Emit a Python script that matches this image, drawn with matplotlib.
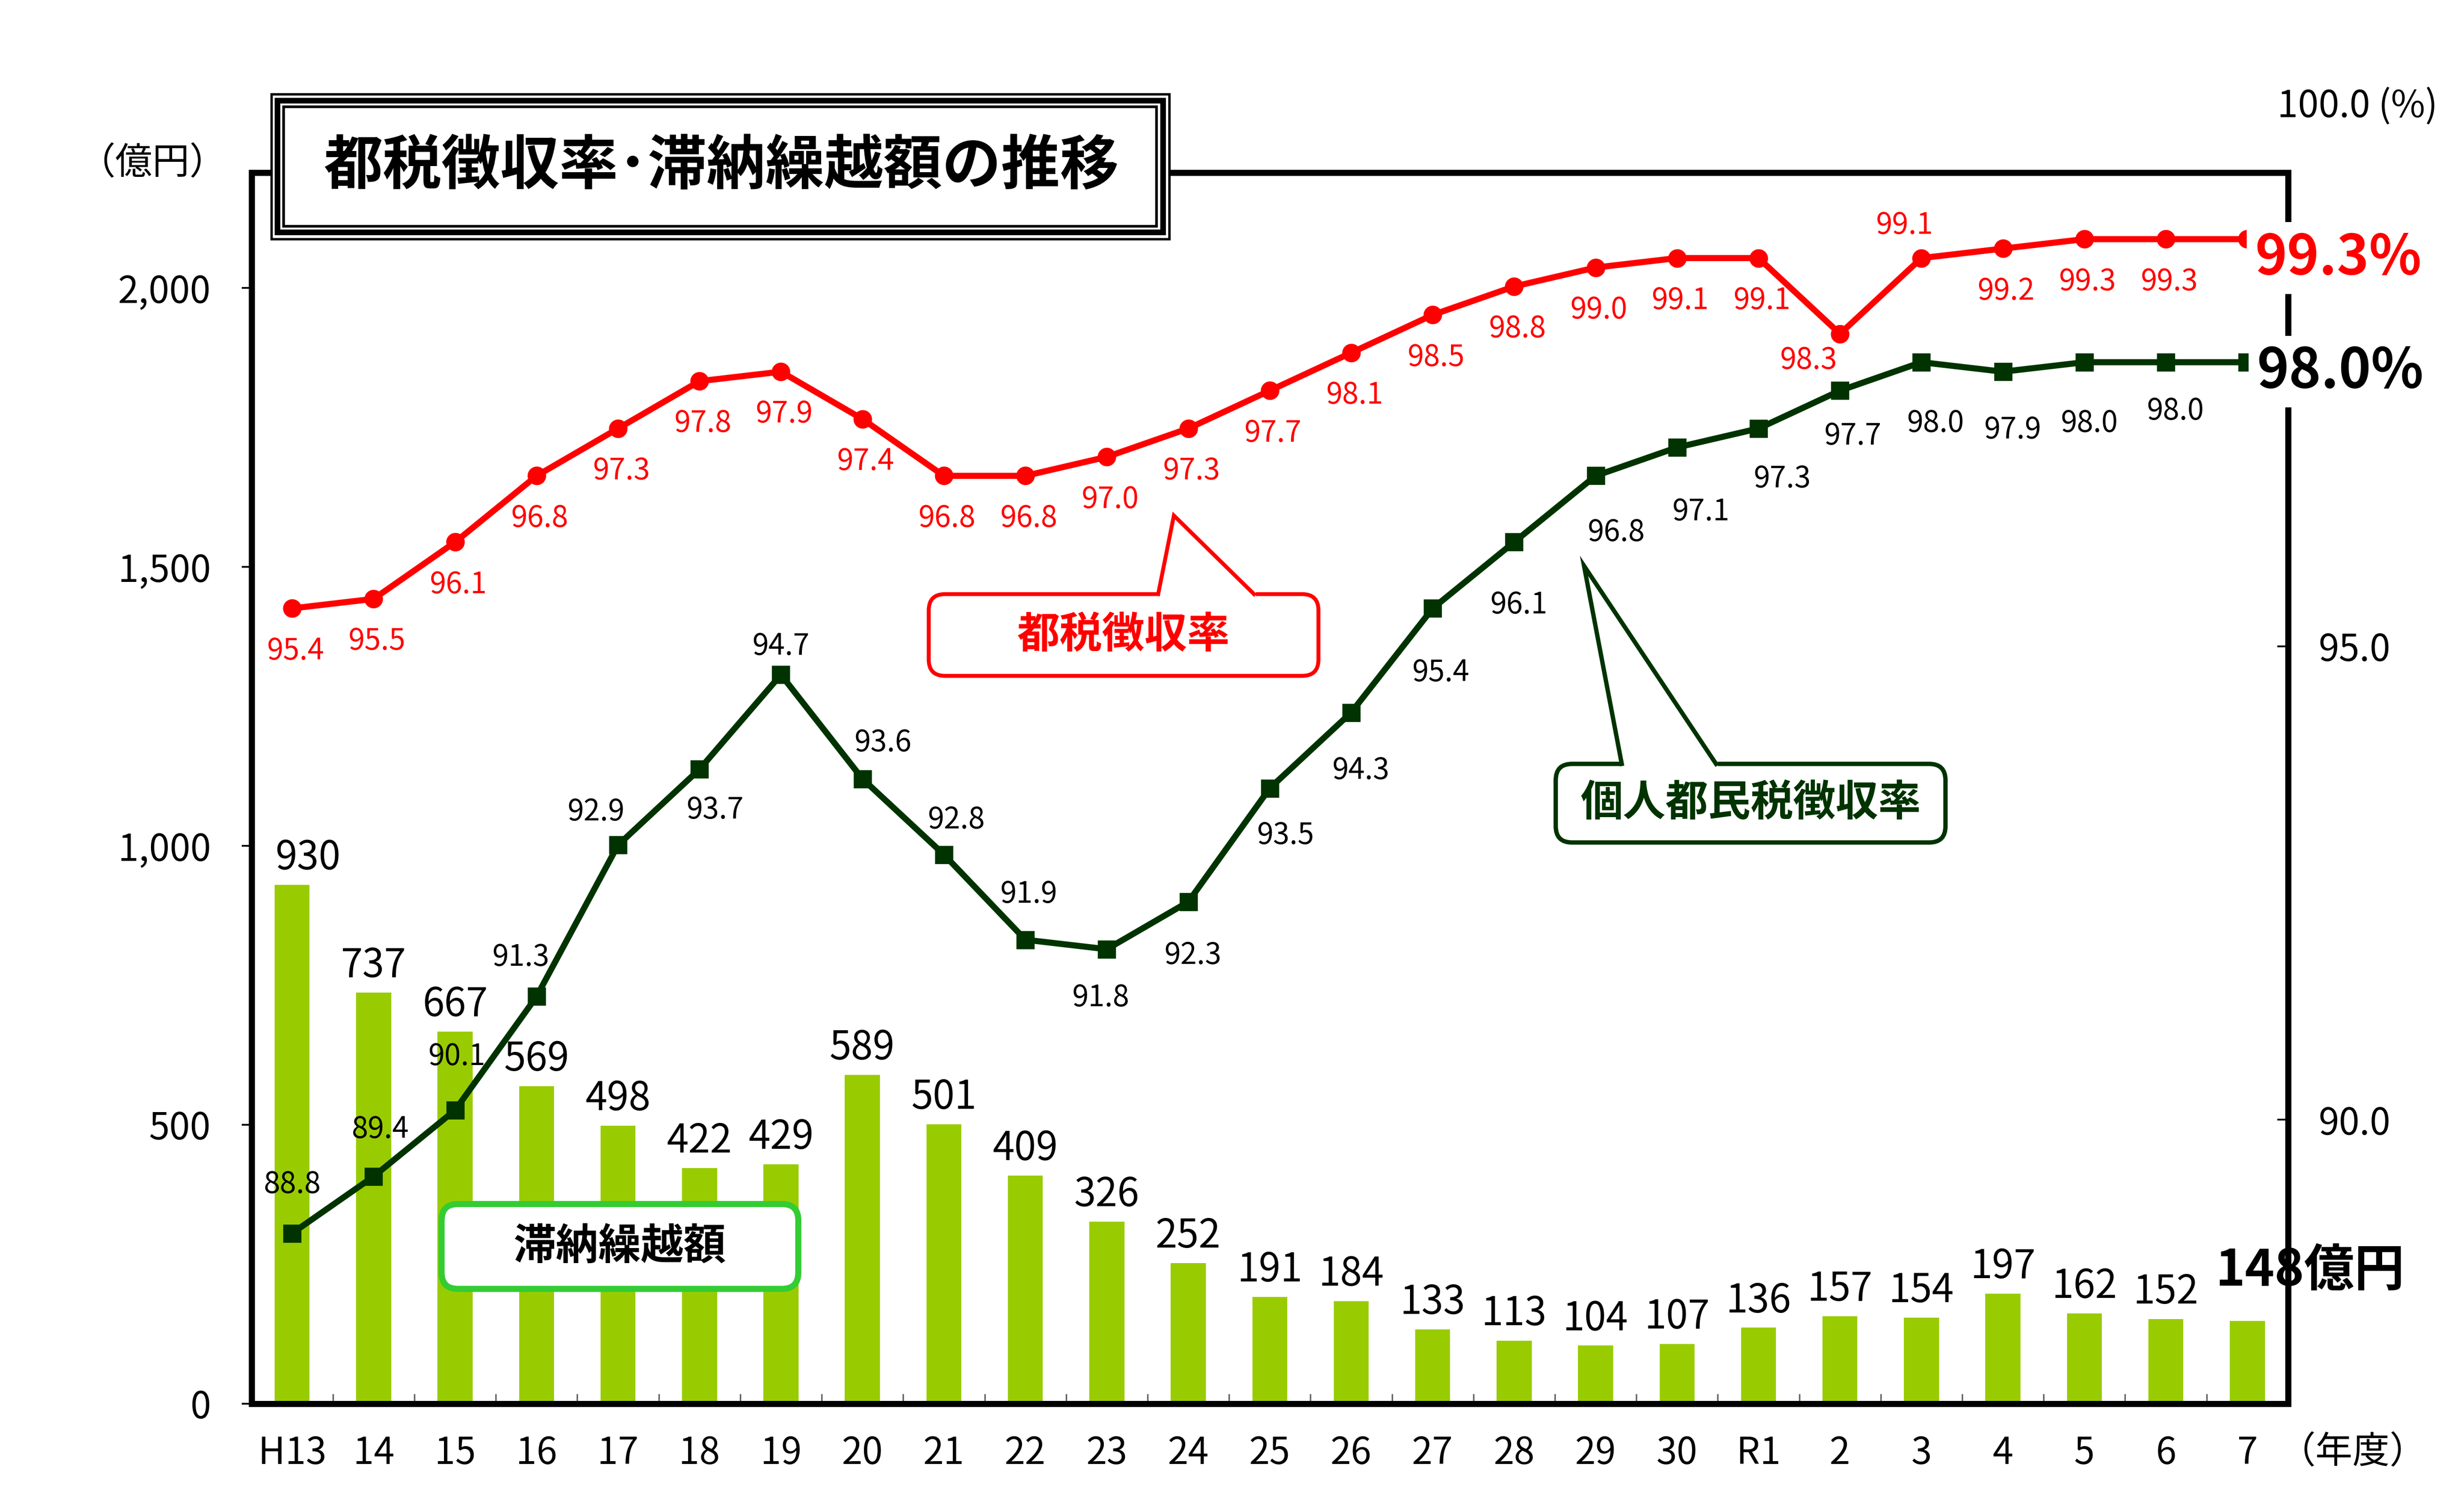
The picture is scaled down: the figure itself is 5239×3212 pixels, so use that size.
import numpy as np
import matplotlib
matplotlib.use("Agg")
import matplotlib.pyplot as plt
from matplotlib.patches import FancyBboxPatch, Rectangle
from matplotlib.lines import Line2D

plt.rcParams['font.family'] = ['Noto Sans CJK JP', 'DejaVu Sans']

# data
years = ['H13', '14', '15', '16', '17', '18', '19', '20', '21', '22', '23', '24',
         '25', '26', '27', '28', '29', '30', 'R1', '2', '3', '4', '5', '6', '7']
arrears = [930, 737, 667, 569, 498, 422, 429, 589, 501, 409, 326, 252,
           191, 184, 133, 113, 104, 107, 136, 157, 154, 197, 162, 152, 148]
tax_rate = [95.4, 95.5, 96.1, 96.8, 97.3, 97.8, 97.9, 97.4, 96.8, 96.8, 97.0, 97.3,
            97.7, 98.1, 98.5, 98.8, 99.0, 99.1, 99.1, 98.3, 99.1, 99.2, 99.3, 99.3, 99.3]
resident_rate = [88.8, 89.4, 90.1, 91.3, 92.9, 93.7, 94.7, 93.6, 92.8, 91.9, 91.8, 92.3,
                 93.5, 94.3, 95.4, 96.1, 96.8, 97.1, 97.3, 97.7, 98.0, 97.9, 98.0, 98.0, 98.0]

RED = '#FF0000'
DKGREEN = '#003300'
BARGREEN = '#99CC00'
PX = 0.72  # one preview pixel in points

# label offsets in preview pixels (dx right, dy down)
red_off = {19: (-20, 17), 20: (-11, -21)}
grn_off = [(0, -31), (4, -30), (1, -34), (-10, -25), (-14, -21), (10, 26), (0, -18),
           (13, -23), (8, -22), (2, -29), (-4, 31), (3, 34), (10, 30), (6, 37),
           (5, 41), (3, 40), (13, 36), (15, 41), (15, 32), (8, 29), (9, 39),
           (6, 37), (3, 39), (6, 31)]

fig = plt.figure(figsize=(15.686, 9.617), dpi=334)
ax = fig.add_axes([0.10204, 0.07105, 0.82653, 0.81452])
ax2 = ax.twinx()

x = np.arange(len(years))

# bars
ax.bar(x, arrears, width=0.43, color=BARGREEN, zorder=2)
ax.set_xlim(-0.5, len(years) - 0.5)
ax.set_ylim(0, 2206)
ax.set_yticks([0, 500, 1000, 1500, 2000])
ax.set_yticklabels([f'{v:,}' for v in [0, 500, 1000, 1500, 2000]])
ax.set_xticks(x)
ax.set_xticklabels(years)
ax.set_xticks(x[:-1] + 0.5, minor=True)
ax.tick_params(axis='x', which='major', length=0, pad=14, labelsize=17)
ax.tick_params(axis='x', which='minor', direction='in', length=4.5, width=0.7, color='#666666')
ax.tick_params(axis='y', direction='out', length=4.5, width=0.8, pad=14, labelsize=17)

for i, v in enumerate(arrears[:-1]):
    dx = 10 if i == 0 else 0
    ax.annotate(str(v), (x[i], v), xytext=(dx * PX, 3), textcoords='offset points',
                ha='center', va='bottom', fontsize=18, color='black')
ax.annotate(f'{arrears[-1]}億円', (x[-1], arrears[-1]), xytext=(40 * PX, 32 * PX),
            textcoords='offset points', ha='center', va='center', fontsize=23,
            fontweight='bold', color='black', zorder=12,
            bbox=dict(boxstyle='square,pad=0.1', fc='white', ec='none'),
            annotation_clip=False)

# lines
ax2.plot(x, tax_rate, color=RED, lw=2.8, marker='o', ms=7.5, zorder=4)
ax2.plot(x, resident_rate, color=DKGREEN, lw=2.8, marker='s', ms=7.5, zorder=4)
ax2.set_ylim(87, 100)
ax2.set_yticks([90, 95])
ax2.set_yticklabels(['90.0', '95.0'])
ax2.tick_params(axis='y', direction='in', length=5, width=0.8, pad=14, labelsize=17)

for i, v in enumerate(tax_rate[:-1]):
    dx, dy = red_off.get(i, (2, 27))
    ax2.annotate(f'{v:.1f}', (x[i], v), xytext=(dx * PX, -dy * PX), textcoords='offset points',
                 ha='center', va='center', fontsize=13.5, color=RED)
for i, v in enumerate(resident_rate[:-1]):
    dx, dy = grn_off[i]
    ax2.annotate(f'{v:.1f}', (x[i], v), xytext=(dx * PX, -dy * PX), textcoords='offset points',
                 ha='center', va='center', fontsize=13.5, color='black')

ax2.annotate(f'{tax_rate[-1]:.1f}%', (x[-1], tax_rate[-1]), xytext=(58 * PX, -12 * PX),
             textcoords='offset points', ha='center', va='center', fontsize=25,
             fontweight='bold', color=RED, zorder=12, annotation_clip=False,
             bbox=dict(boxstyle='square,pad=0.15', fc='white', ec='none'))
ax2.annotate(f'{resident_rate[-1]:.1f}%', (x[-1], resident_rate[-1]), xytext=(59 * PX, -6 * PX),
             textcoords='offset points', ha='center', va='center', fontsize=25,
             fontweight='bold', color='black', zorder=12, annotation_clip=False,
             bbox=dict(boxstyle='square,pad=0.15', fc='white', ec='none'))

# frame
for a in (ax, ax2):
    for s in a.spines.values():
        s.set_linewidth(2.8)
        s.set_color('black')
ax2.spines['right'].set_bounds(87.46, 100)


def fr(px, py):
    # preview pixel -> axes fraction
    return (px - 160) / 1296, (893 - py) / 783


# axis unit labels
ax2.text(*fr(97, 104), '（億円）', transform=ax2.transAxes, ha='center', va='center', fontsize=17)
ax2.text(*fr(1449, 68), '100.0 (%)', transform=ax2.transAxes, ha='left', va='center', fontsize=17)
ax2.text(*fr(1497, 924), '（年度）', transform=ax2.transAxes, ha='center', va='center', fontsize=17)

# title box (triple border)
for (x0, y0, x1, y1), lw in [((172.6, 60, 744, 152), 1.1),
                             ((176.6, 64, 740, 148), 2.6),
                             ((180.5, 68, 736, 144), 1.2)]:
    ax0, ay1 = fr(x0, y0)
    ax1_, ay0 = fr(x1, y1)
    ax2.add_patch(Rectangle((ax0, ay0), ax1_ - ax0, ay1 - ay0, transform=ax2.transAxes,
                            fc='white' if lw == 1.1 else 'none', ec='black', lw=lw,
                            clip_on=False, zorder=10))
ax2.text(*fr(459, 106), '都税徴収率･滞納繰越額の推移', transform=ax2.transAxes, ha='center',
         va='center', fontsize=27, fontweight='bold', color='black', zorder=11)


def callout(box, text, tcolor, ecolor, lw, tip=None, base=None):
    x0, y0 = fr(box[0], box[3])
    x1, y1 = fr(box[2], box[1])
    p = FancyBboxPatch((x0, y0), x1 - x0, y1 - y0, boxstyle='round,pad=0,rounding_size=0.008',
                       mutation_aspect=1296 / 783, transform=ax2.transAxes,
                       fc='white', ec=ecolor, lw=lw, zorder=8, clip_on=False)
    ax2.add_patch(p)
    if tip is not None:
        bx0, by = fr(base[0], box[1])
        bx1, _ = fr(base[1], box[1])
        tx, ty = fr(*tip)
        ax2.add_line(Line2D([bx0 + 0.001, bx1 - 0.001], [by, by], color='white', lw=lw + 1.5,
                            transform=ax2.transAxes, zorder=9))
        ax2.add_line(Line2D([bx0, tx, bx1], [by, ty, by], color=ecolor, lw=lw,
                            transform=ax2.transAxes, zorder=9, solid_joinstyle='miter'))
    cx, cy = fr((box[0] + box[2]) / 2, (box[1] + box[3]) / 2)
    ax2.text(cx, cy, text, transform=ax2.transAxes, ha='center', va='center', fontsize=19.5,
             fontweight='bold', color=tcolor, zorder=10)


callout((591, 378, 839, 430), '都税徴収率', RED, RED, 1.8, tip=(747, 328), base=(737, 798))
callout((990, 486, 1238, 536), '個人都民税徴収率', DKGREEN, DKGREEN, 2.0, tip=(1008, 360),
        base=(1032, 1092))
callout((281, 766, 508, 820), '滞納繰越額', 'black', '#33CC33', 2.8)

fig.savefig('out.png', dpi=334, facecolor='white')
